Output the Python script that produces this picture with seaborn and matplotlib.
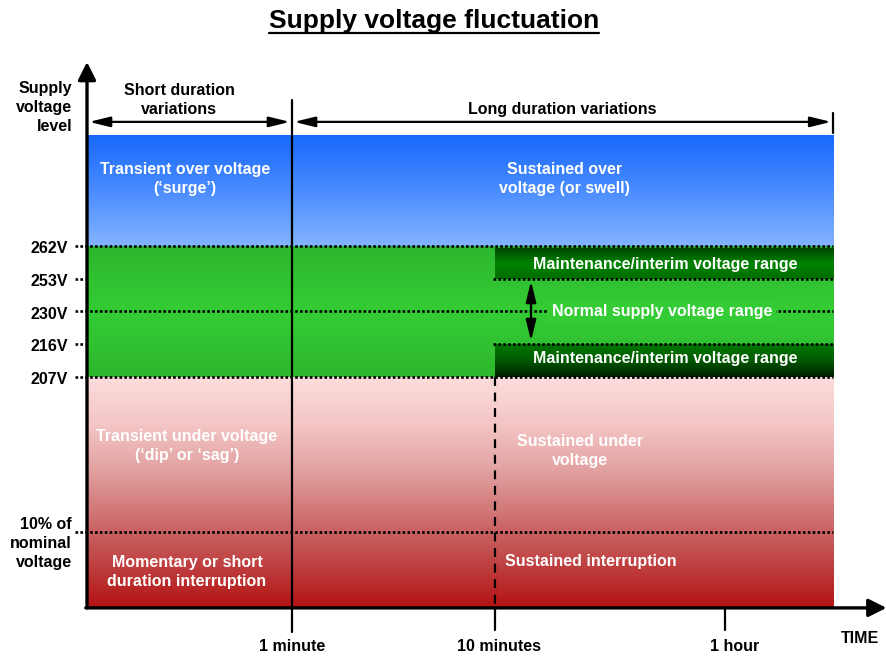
import numpy as np
import pandas as pd
import matplotlib
matplotlib.use('Agg')
import matplotlib.pyplot as plt
import seaborn as sns
from matplotlib.colors import LinearSegmentedColormap

# ============================================
# Data: levels and time marks of the diagram
# ============================================
voltage_labels = ['207V', '216V', '230V', '253V', '262V']
voltage_levels = [0, 1, 2, 3, 4]            # drawn as equal steps
interruption_label = '10% of\nnominal\nvoltage'
interruption_level = -4.73
floor_level = -7.05
ceiling_level = 7.36

time_labels = ['1 minute', '10 minutes', '1 hour']
time_marks = [1.0, 1.99, 3.11]
time_end = 3.64

region_texts = [
    ('Transient over voltage\n(\u2018surge\u2019)', 0.478, 6.05),
    ('Sustained over\nvoltage (or swell)', 2.33, 6.05),
    ('Transient under voltage\n(\u2018dip\u2019 or \u2018sag\u2019)', 0.488, -2.11),
    ('Sustained under\nvoltage', 2.405, -2.26),
    ('Momentary or short\nduration interruption', 0.488, -5.95),
]

# ============================================
# Style
# ============================================
sns.set_theme(style='white')
plt.rcParams['font.family'] = ['Liberation Sans', 'DejaVu Sans']
plt.rcParams['font.weight'] = 'bold'
plt.rcParams['text.color'] = 'black'
FS = 11.5
LS = 1.33

fig = plt.figure(figsize=(8.86, 6.56), dpi=100)
ax = fig.add_axes([0, 0, 1, 1])


def gradient(colors, x0, x1, y0, y1):
    cmap = LinearSegmentedColormap.from_list('band', colors)
    img = np.linspace(0, 1, 256).reshape(-1, 1)
    ax.imshow(img, cmap=cmap, extent=(x0, x1, y0, y1), origin='upper',
              aspect='auto', zorder=0, interpolation='bilinear')


# colour bands
gradient(['#1868fc', '#4a8cff', '#84b4ff'], 0, time_end, voltage_levels[-1], ceiling_level)
gradient(['#2db72d', '#34cc34', '#2db72d'], 0, time_end, voltage_levels[0], voltage_levels[-1])
gradient(['#fddcdc', '#f4c6c6', '#e3a2a2', '#cf7272', '#c04444', '#b41212'],
         0, time_end, floor_level, voltage_levels[0])
gradient(['#004400', '#008400', '#006c00'], time_marks[1], time_end,
         voltage_levels[3], voltage_levels[4] - 0.08)
gradient(['#007800', '#005a00', '#001c00'], time_marks[1], time_end,
         voltage_levels[0], voltage_levels[1])

# dotted level lines
segs = []
for lvl in [voltage_levels[4], voltage_levels[2], voltage_levels[0], interruption_level]:
    segs.append((f'full{lvl}', -0.06, lvl))
    segs.append((f'full{lvl}', time_end, lvl))
for lvl in [voltage_levels[3], voltage_levels[1]]:
    segs.append((f'stub{lvl}', -0.06, lvl))
    segs.append((f'stub{lvl}', -0.012, lvl))
    segs.append((f'part{lvl}', time_marks[1] - 0.01, lvl))
    segs.append((f'part{lvl}', time_end, lvl))
lines_df = pd.DataFrame(segs, columns=['seg', 'x', 'y'])
sns.lineplot(data=lines_df, x='x', y='y', units='seg', estimator=None, sort=False,
             color='black', lw=1.9, linestyle=(0, (1, 0.85)), ax=ax, zorder=3)

# vertical markers
ax.plot([time_marks[0]] * 2, [8.46, -7.78], color='black', lw=1.6, zorder=4)
ax.plot([time_marks[1]] * 2, [voltage_levels[0], floor_level], color='black', lw=1.6,
        linestyle=(0, (4, 3)), zorder=4)
ax.plot([time_marks[1]] * 2, [floor_level, -7.72], color='black', lw=1.6, zorder=4)
ax.plot([time_marks[2]] * 2, [floor_level, -7.72], color='black', lw=1.6, zorder=4)
ax.plot([time_end] * 2, [8.06, 7.45], color='black', lw=1.6, zorder=4)

# main axes arrows
axis_arrow = dict(arrowstyle='-|>,head_length=0.6,head_width=0.3', lw=2.4, color='black',
                  shrinkA=0, shrinkB=0, mutation_scale=18)
ax.annotate('', xy=(3.9, floor_level), xytext=(-0.006, floor_level), arrowprops=axis_arrow, zorder=5)
ax.annotate('', xy=(0, 9.62), xytext=(0, floor_level), arrowprops=axis_arrow, zorder=5)

# duration arrows
span_arrow = dict(arrowstyle='<|-|>,head_length=0.9,head_width=0.22', lw=1.6, color='black',
                  shrinkA=0, shrinkB=0, mutation_scale=14)
ax.annotate('', xy=(0.01, 7.79), xytext=(time_marks[0] - 0.01, 7.79), arrowprops=span_arrow)
ax.annotate('', xy=(time_marks[0] + 0.01, 7.79), xytext=(time_end - 0.01, 7.79), arrowprops=span_arrow)
ax.annotate('', xy=(2.166, voltage_levels[3] - 0.07), xytext=(2.166, voltage_levels[1] + 0.1),
            arrowprops=span_arrow, zorder=5)

ax.text(0.45, 8.46, 'Short duration\nvariations', ha='center', va='center', fontsize=FS,
        linespacing=LS)
ax.text(2.32, 8.18, 'Long duration variations', ha='center', va='center', fontsize=FS)

# axis labels
ax.text(-0.073, 8.22, 'Supply\nvoltage\nlevel', ha='right', va='center', fontsize=FS,
        linespacing=LS)
for lab, lvl in zip(voltage_labels, voltage_levels):
    ax.text(-0.093, lvl - 0.08, lab, ha='right', va='center', fontsize=FS)
ax.text(-0.073, interruption_level - 0.36, interruption_label, ha='right', va='center',
        fontsize=FS, linespacing=LS)

nudges = [0, 0.02, 0.05]
for lab, pos, dx in zip(time_labels, time_marks, nudges):
    ax.text(pos + dx, -8.24, lab, ha='center', va='center', fontsize=FS)
ax.text(3.77, -7.97, 'TIME', ha='center', va='center', fontsize=FS)

# region texts
for txt, x, y in region_texts:
    ax.text(x, y, txt, ha='center', va='center', color='white', fontsize=FS, linespacing=LS)
ax.text(2.04, -5.62, 'Sustained interruption', ha='left', va='center', color='white', fontsize=FS)
ax.text(2.82, 3.45, 'Maintenance/interim voltage range', ha='center', va='center',
        color='white', fontsize=FS, zorder=5)
ax.text(2.82, 0.55, 'Maintenance/interim voltage range', ha='center', va='center',
        color='white', fontsize=FS, zorder=5)
ax.text(2.805, 2.0, 'Normal supply voltage range', ha='center', va='center', color='white',
        fontsize=FS, zorder=5,
        bbox=dict(facecolor='#34cc34', edgecolor='none', pad=3))

ax.set_xlim(-87 / 205, 799 / 205)
ax.set_ylim(-279 / 32.75, 377 / 32.75)
ax.axis('off')
if ax.get_legend() is not None:
    ax.get_legend().remove()

# title with underline
title = fig.text(0.4898, 1 - 28 / 656, 'Supply voltage fluctuation', ha='center',
                 va='baseline', fontsize=19, weight='bold')
fig.canvas.draw()
bb = title.get_window_extent().transformed(fig.transFigure.inverted())
fig.add_artist(plt.Line2D([bb.x0, bb.x1], [1 - 33 / 656] * 2, color='black', lw=1.6,
                          transform=fig.transFigure))

fig.savefig('out.png', dpi=100)
